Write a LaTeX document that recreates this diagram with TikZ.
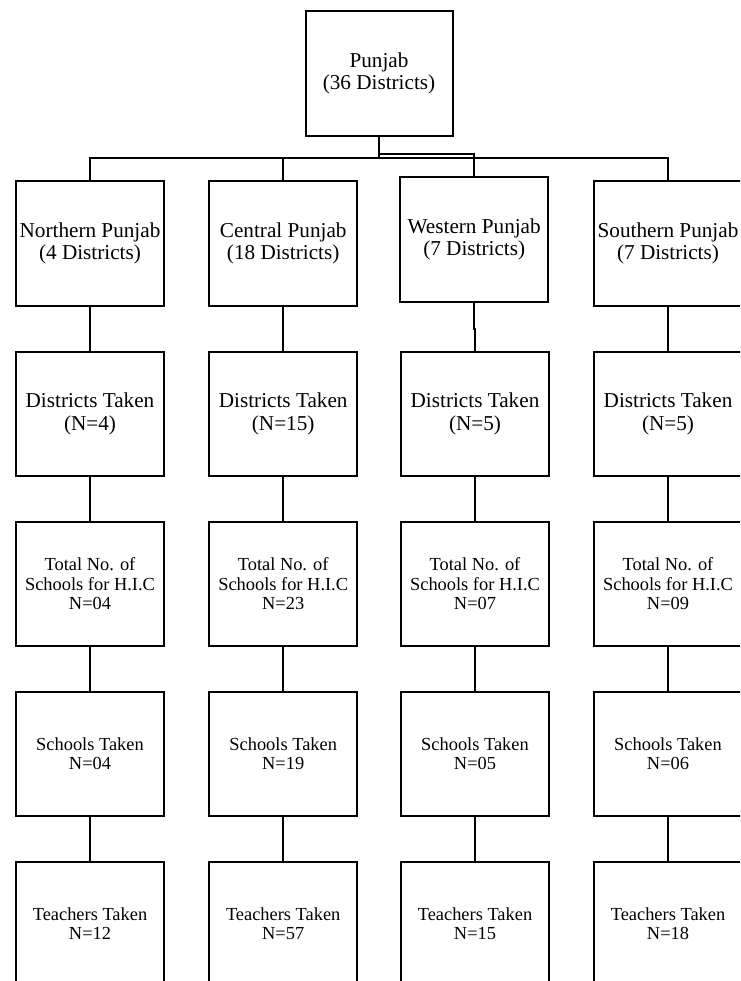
\documentclass[tikz,border=0pt]{standalone}
\usepackage{fontspec}
\setmainfont{Liberation Serif}
\begin{document}
\begin{tikzpicture}[x=1pt,y=-1pt,
  box/.style={draw, line width=2pt, minimum width=148pt, minimum height=124pt,
    inner sep=0pt, align=center},
  big/.style={box, font=\fontsize{21.2}{22.4}\selectfont},
  small/.style={box, font=\fontsize{18.4}{19.5}\selectfont},
  conn/.style={line width=2pt}]
\useasboundingbox (0,0) rectangle (740,981);
\clip (0,0) rectangle (740,981);
% top
\node[big, minimum width=147pt, minimum height=124.5pt] (top) at (379,73.4) {Punjab\\(36 Districts)};
% row 1
\node[big] (n1) at (90,243.5) {Northern Punjab\\(4 Districts)};
\node[big] (c1) at (283.2,243.5) {Central Punjab\\(18 Districts)};
\node[big, minimum height=125.5pt] (w1) at (474.2,239.5) {Western Punjab\\(7 Districts)};
\node[big] (s1) at (668,243.5) {Southern Punjab\\(7 Districts)};
% row 2
\node[big] (n2) at (90,413.7) {Districts Taken\\(N=4)};
\node[big] (c2) at (283.2,413.7) {Districts Taken\\(N=15)};
\node[big] (w2) at (475,413.7) {Districts Taken\\(N=5)};
\node[big] (s2) at (668,413.7) {Districts Taken\\(N=5)};
% row 3
\node[small] (n3) at (90,583.7) {Total No. of\\Schools for H.I.C\\N=04};
\node[small] (c3) at (283.2,583.7) {Total No. of\\Schools for H.I.C\\N=23};
\node[small] (w3) at (475,583.7) {Total No. of\\Schools for H.I.C\\N=07};
\node[small] (s3) at (668,583.7) {Total No. of\\Schools for H.I.C\\N=09};
% row 4
\node[small] (n4) at (90,753.7) {Schools Taken\\N=04};
\node[small] (c4) at (283.2,753.7) {Schools Taken\\N=19};
\node[small] (w4) at (475,753.7) {Schools Taken\\N=05};
\node[small] (s4) at (668,753.7) {Schools Taken\\N=06};
% row 5
\node[small] (n5) at (90,923.7) {Teachers Taken\\N=12};
\node[small] (c5) at (283.2,923.7) {Teachers Taken\\N=57};
\node[small] (w5) at (475,923.7) {Teachers Taken\\N=15};
\node[small] (s5) at (668,923.7) {Teachers Taken\\N=18};
% top connectors
\coordinate (bar) at (379,158.5);
\coordinate (wbar) at (379,154.5);
\draw[conn] (top.south) -- (bar);
\draw[conn] (n1.north) -- (n1.north |- bar) -- (s1.north |- bar) -- (s1.north);
\draw[conn] (c1.north) -- (c1.north |- bar);
\draw[conn] (wbar) -| (w1.north);
% column connectors
\foreach \c in {n,c,s}{
  \draw[conn] (\c1.south) -- (\c2.north);
  \draw[conn] (\c2.south) -- (\c3.north);
  \draw[conn] (\c3.south) -- (\c4.north);
  \draw[conn] (\c4.south) -- (\c5.north);
}
\coordinate (wj) at (474.2,328.5);
\draw[conn] (w1.south) -- (wj) -| (w2.north);
\draw[conn] (w2.south) -- (w3.north);
\draw[conn] (w3.south) -- (w4.north);
\draw[conn] (w4.south) -- (w5.north);
\end{tikzpicture}
\end{document}
